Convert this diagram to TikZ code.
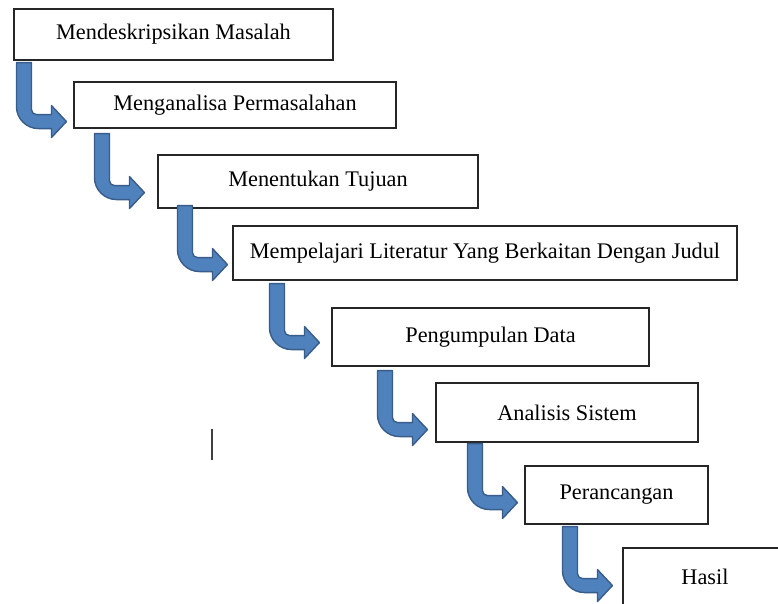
\documentclass[tikz,border=0pt]{standalone}
\usepackage{fontspec}
\setmainfont{Liberation Serif}
\usetikzlibrary{calc}
\definecolor{arrowblue}{RGB}{79,129,189}
\definecolor{arrowedge}{RGB}{56,93,138}

\begin{document}
\begin{tikzpicture}[
  x=1pt, y=-1pt,
  stepbox/.style={draw=black!85, line width=1.1pt, fill=white, inner sep=0pt, font=\fontsize{22.3}{26}\selectfont},
  bentarrow/.pic={
    \filldraw[fill=arrowblue, draw=arrowedge, line width=1.4pt, line join=round]
      (0,0) -- (0,44) .. controls (0,56.1) and (9.9,66) .. (22,66) -- (35,66) -- (35,75)
      -- (50,59) -- (35,43) -- (35,52) -- (20,52) .. controls (17.2,52) and (15,49.8) .. (15,47)
      -- (15,0) -- cycle;
  }
]
\useasboundingbox (0,0) rectangle (778,603);
\clip (0,0) rectangle (778,603);
\fill[white] (0,0) rectangle (778,603);
\foreach \n/\x/\y/\w/\h/\t in {1/173.5/34.5/319/51/Mendeskripsikan Masalah,
    2/235/105/322/46/Menganalisa Permasalahan,
    3/318/181.5/320/53/Menentukan Tujuan,
    4/485/253/504/54/Mempelajari Literatur Yang Berkaitan Dengan Judul,
    5/490.5/337/317/58/Pengumpulan Data,
    6/567/412.5/262/59/Analisis Sistem,
    7/616.5/495/183/58/Perancangan,
    8/705/577/164/58/Hasil} {
  \node[stepbox, minimum width=\w pt, minimum height=\h pt] (b\n) at (\x,\y) {\t};
}
% bent arrows hang from the lower left of each box
\foreach \i/\dx/\dy in {1/3/2, 2/21/5, 3/20/-3, 4/37/3, 5/46/4, 6/32/1, 7/38/2} {
  \pic at ($(b\i.south west)+(\dx,\dy)$) {bentarrow};
}
\draw[line width=1.5pt, black!75] (212,429) -- (212,460);
\end{tikzpicture}
\end{document}
